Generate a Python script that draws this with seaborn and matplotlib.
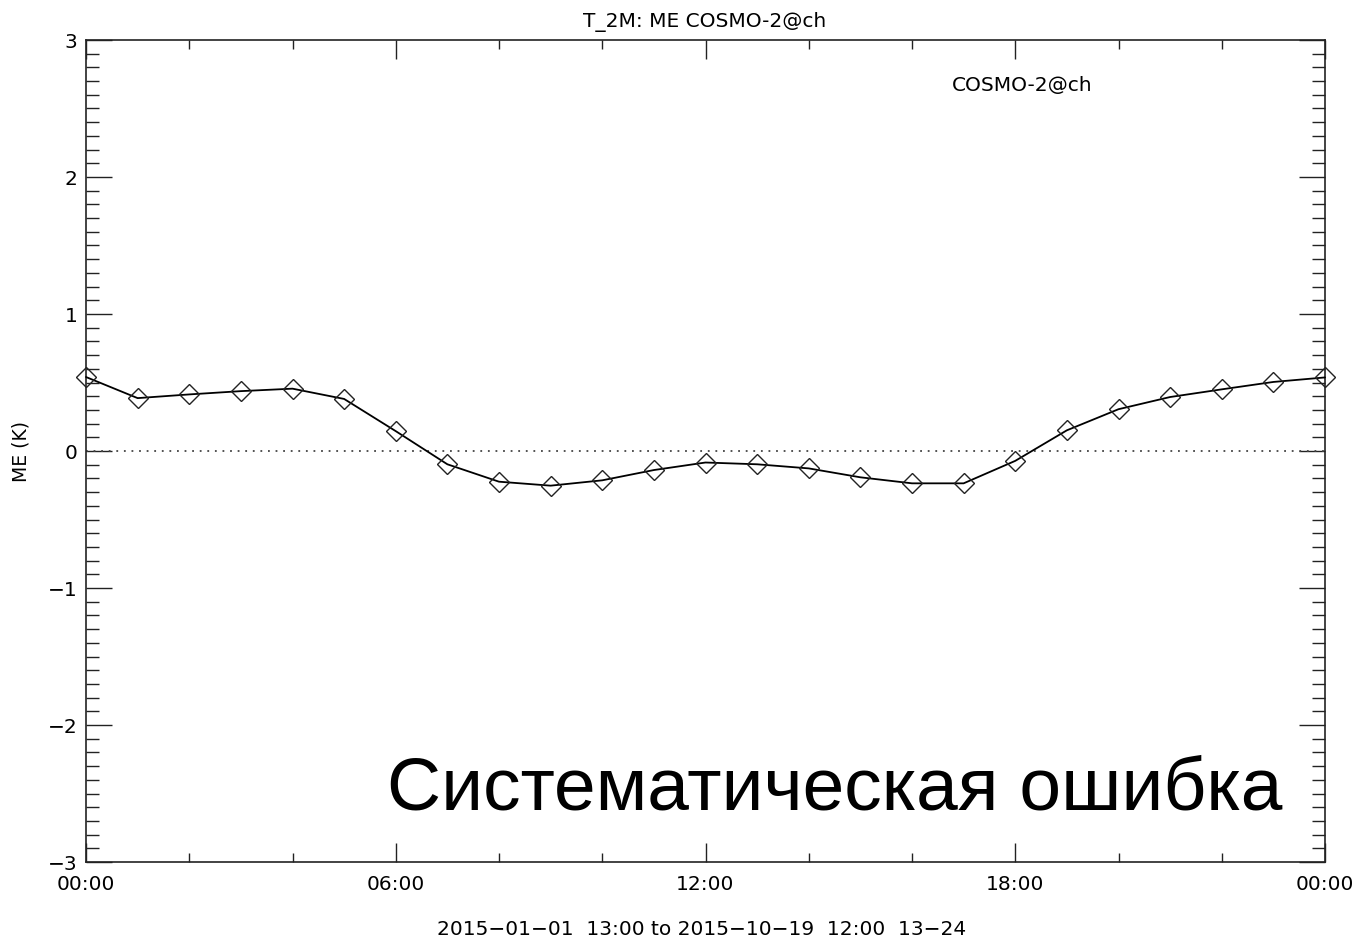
import matplotlib
matplotlib.use("Agg")
import matplotlib.pyplot as plt
from matplotlib.ticker import MultipleLocator, FixedLocator
import seaborn as sns
import pandas as pd

# Data: lead hour of day vs mean error (K)
hours = list(range(25))
me_values = [0.54, 0.386, 0.413, 0.437, 0.455, 0.38, 0.145, -0.097, -0.224, -0.253,
             -0.214, -0.139, -0.084, -0.097, -0.127, -0.192, -0.236, -0.236, -0.072,
             0.151, 0.305, 0.394, 0.45, 0.504, 0.537]
xtick_pos = [0, 6, 12, 18, 24]
xtick_labels = ["00:00", "06:00", "12:00", "18:00", "00:00"]
ytick_pos = [-3, -2, -1, 0, 1, 2, 3]
ytick_labels = ["\u22123", "\u22122", "\u22121", "0", "1", "2", "3"]

title = "T_2M: ME COSMO-2@ch"
legend_label = "COSMO-2@ch"
ylabel = "ME (K)"
period_text = "2015\u221201\u221201  13:00 to 2015\u221210\u221219  12:00  13\u221224"
overlay_text = "Систематическая ошибка"

df = pd.DataFrame({"hour": hours, "me": me_values})

sns.set_theme(style="white")
plt.rcParams["font.family"] = ["DejaVu Sans"]
plt.rcParams["text.color"] = "black"
plt.rcParams["axes.labelcolor"] = "black"
plt.rcParams["xtick.color"] = "black"
plt.rcParams["ytick.color"] = "black"

fig = plt.figure(figsize=(13.56, 9.45), dpi=100)
ax = fig.add_axes([86 / 1356, 82 / 945, 1239 / 1356, 822 / 945])

ax.axhline(0, color="#444444", linestyle=(0, (1, 3.2)), linewidth=1.3, zorder=1)

sns.lineplot(data=df, x="hour", y="me", ax=ax, color="black", linewidth=1.3,
             marker="D", markersize=10, markerfacecolor="none",
             markeredgecolor="#222222", markeredgewidth=1.0, zorder=3, clip_on=False)

ax.set_xlim(0, 24)
ax.set_ylim(-3, 3)
ax.xaxis.set_major_locator(FixedLocator(xtick_pos))
ax.set_xticklabels(xtick_labels)
ax.xaxis.set_minor_locator(MultipleLocator(2))
ax.yaxis.set_major_locator(FixedLocator(ytick_pos))
ax.set_yticklabels(ytick_labels)
ax.yaxis.set_minor_locator(MultipleLocator(0.1))

ax.tick_params(axis="x", which="major", direction="in", length=13.5, width=1.0,
               top=True, bottom=True, labelsize=14.5, pad=9, color="#222222")
ax.tick_params(axis="x", which="minor", direction="in", length=6.3, width=1.0,
               top=True, bottom=True, color="#222222")
ax.tick_params(axis="y", which="major", direction="in", length=19, width=1.0,
               left=True, right=True, labelsize=14.5, pad=6, color="#222222")
ax.tick_params(axis="y", which="minor", direction="in", length=9.4, width=1.0,
               left=True, right=True, color="#222222")
for sp in ax.spines.values():
    sp.set_visible(True)
    sp.set_color("#222222")
    sp.set_linewidth(1.2)

ax.set_xlabel("")
ax.set_ylabel(ylabel, fontsize=13.5)
ax.yaxis.set_label_coords((30 - 86) / 1239, 0.5)

fig.text(705 / 1356, 1 - 22 / 945, title, ha="center", va="center", fontsize=14.5)
ax.text(0.699, 0.946, legend_label, transform=ax.transAxes, ha="left", va="center",
        fontsize=14.5)
fig.text(702 / 1356, 1 - 930 / 945, period_text, ha="center", va="center", fontsize=14.5)
fig.text(387 / 1356, 1 - 810 / 945, overlay_text, ha="left", va="baseline",
         fontsize=54, color="black", family=["Liberation Sans", "DejaVu Sans"])

fig.savefig("out.png", dpi=100)
